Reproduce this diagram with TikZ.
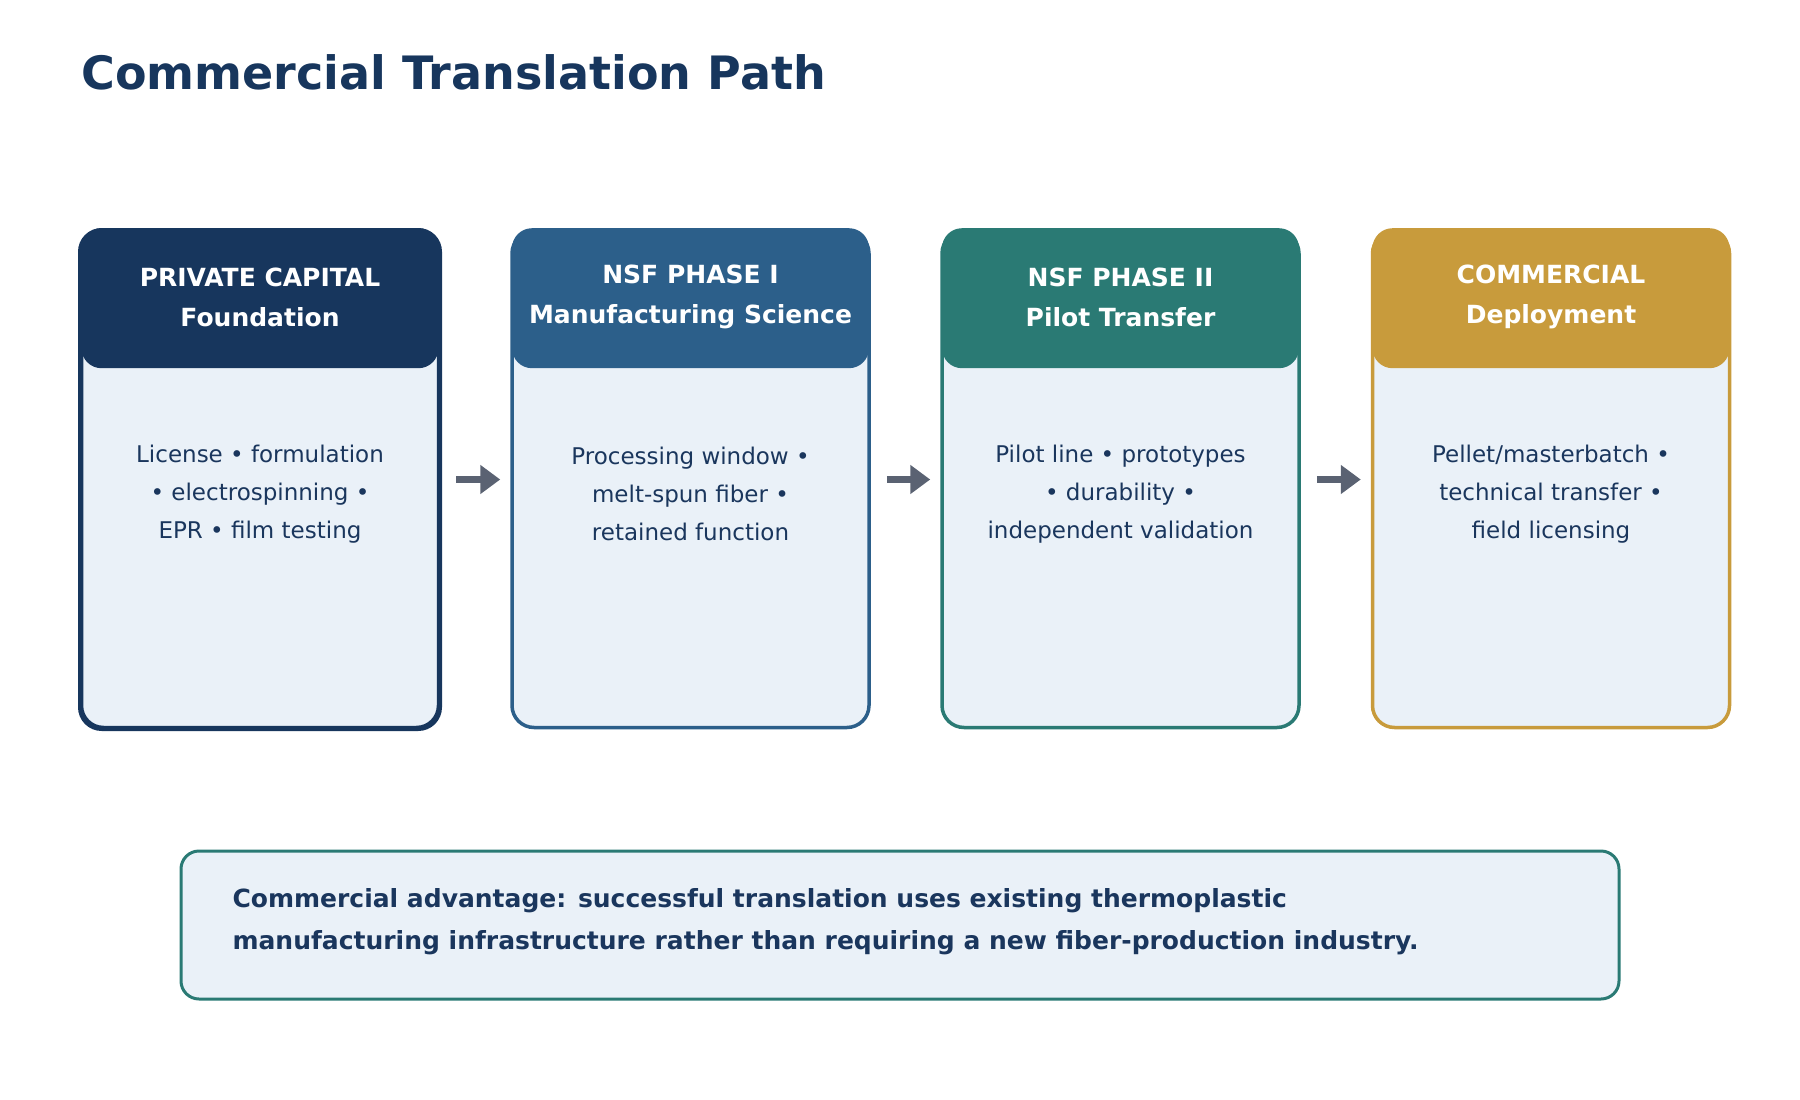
\documentclass[tikz,border=0pt]{standalone}
\usepackage{fontspec}
\setmainfont{DejaVu Sans}
\usetikzlibrary{arrows.meta,positioning}
\definecolor{navy}{HTML}{17365D}
\definecolor{steel}{HTML}{2C5F8A}
\definecolor{teal}{HTML}{2A7A74}
\definecolor{gold}{HTML}{C89B3C}
\definecolor{pale}{HTML}{EAF1F8}
\definecolor{ink}{HTML}{1A365D}
\definecolor{slate}{HTML}{5A6272}
\tikzset{
  stage/.style={draw=#1, line width=3.5pt, fill=pale, rounded corners=22pt,
    minimum width=357pt, minimum height=496pt, inner sep=0pt},
  head/.style={fill=#1, rounded corners=20pt, minimum width=357pt, minimum height=140pt, inner sep=0pt},
  headtxt/.style={text=white, font=\fontsize{25}{40}\selectfont\bfseries, align=center},
  bodytxt/.style={text=ink, font=\fontsize{23}{38}\selectfont, align=center},
  flow/.style={draw=slate, line width=7pt, -{Triangle[length=20pt,width=28pt]}}
}
\begin{document}
\begin{tikzpicture}[x=1pt,y=-1pt]
\useasboundingbox (0,0) rectangle (1800,1100);
\node[anchor=west, text=navy, font=\fontsize{46}{50}\selectfont\bfseries] (title) at (78,72) {Commercial Translation Path};
% stages
\foreach \n/\x/\c/\ha/\hb/\ta/\tb/\tc in {
  1/260/navy/PRIVATE CAPITAL/Foundation/License • formulation/• electrospinning •/EPR • film testing,
  2/690.5/steel/NSF PHASE I/Manufacturing Science/Processing window •/melt-spun fiber •/retained function,
  3/1120.5/teal/NSF PHASE II/Pilot Transfer/Pilot line • prototypes/• durability •/independent validation,
  4/1551/gold/COMMERCIAL/Deployment/Pellet\slash masterbatch •/technical transfer •/field licensing}{
  \node[stage=\c] (b\n) at (\x,479.5) {};
  \node[head=\c, below=0pt of b\n.north, yshift=1.75pt] (h\n) {};
  \node[headtxt] (ht\n) at (\x,297) {\ha\\\hb};
  \node[bodytxt] (bt\n) at (\x,494) {\ta\\\tb\\\tc};
}
\draw[stage=navy, line width=3.5pt, fill=none] (b1.north west) rectangle (b1.south east);
% arrows
\foreach \a/\b in {1/2,2/3,3/4}
  \draw[flow] ([xshift=16pt]b\a.east) -- ([xshift=-10pt]b\b.west);
% note
\node[draw=teal, line width=3pt, fill=pale, rounded corners=18pt,
  minimum width=1438pt, minimum height=148pt] (note) at (900,925) {};
\node[anchor=west, text=ink, align=left, font=\fontsize{25}{42}\selectfont\bfseries] (notetxt) at (229,922)
  {Commercial advantage: successful translation uses existing thermoplastic\\manufacturing infrastructure rather than requiring a new fiber-production industry.};
\end{tikzpicture}
\end{document}
